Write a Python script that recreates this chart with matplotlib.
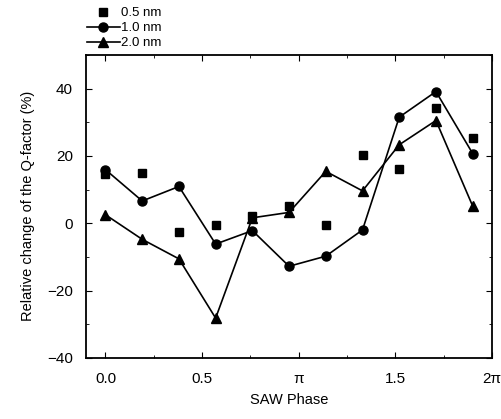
import numpy as np
import matplotlib
matplotlib.use("Agg")
from matplotlib import pyplot as plt
from matplotlib.ticker import MultipleLocator

plt.rcParams['font.family'] = ['Liberation Sans', 'DejaVu Sans']

# SAW phase in units of pi
phase = [0.0, 0.19, 0.38, 0.57, 0.76, 0.95, 1.14, 1.33, 1.52, 1.71, 1.90]

q_05nm = [14.7, 14.8, -2.6, -0.6, 2.1, 5.2, -0.4, 20.4, 16.0, 34.2, 25.3]
q_10nm = [15.9, 6.6, 10.9, -6.2, -2.2, -12.8, -9.8, -2.0, 31.5, 39.1, 20.7]
q_20nm = [2.5, -4.8, -10.6, -28.2, 1.6, 3.2, 15.4, 9.6, 23.3, 30.5, 5.1]

tick_pos = [0, 0.5, 1.0, 1.5, 2.0]
tick_labels = ['0.0', '0.5', 'π', '1.5', '2π']

fig = plt.figure(figsize=(5.01, 4.19), dpi=100)
ax = fig.add_axes([0.172, 0.146, 0.810, 0.723])

ax.plot(phase, q_05nm, 's', color='black', markersize=5.5, linestyle='none', label='0.5 nm')
ax.plot(phase, q_10nm, '-o', color='black', markersize=6.5, linewidth=1.2, label='1.0 nm')
ax.plot(phase, q_20nm, '-^', color='black', markersize=7, linewidth=1.2, label='2.0 nm')

ax.set_xlim(-0.1, 2.0)
ax.set_ylim(-40, 50)
ax.set_xticks(tick_pos)
ax.set_xticklabels(tick_labels)
ax.set_yticks([-40, -20, 0, 20, 40])
ax.xaxis.set_minor_locator(MultipleLocator(0.25))
ax.yaxis.set_minor_locator(MultipleLocator(10))
ax.tick_params(which='both', direction='in', top=True, right=True, labelsize=11)
ax.tick_params(axis='x', which='major', length=4, pad=10.5)
ax.tick_params(axis='y', which='major', length=4, pad=9.5)
ax.tick_params(which='minor', length=2)
for s in ax.spines.values():
    s.set_linewidth(1.3)

ax.set_xlabel('SAW Phase', fontsize=10.5, labelpad=5)
ax.set_ylabel('Relative change of the Q-factor (%)', fontsize=10.5, labelpad=9)

fig.legend(loc='upper left', bbox_to_anchor=(0.155, 1.005), frameon=False,
           fontsize=9.5, handlelength=2.5, handletextpad=0.05, labelspacing=0.2,
           borderpad=0.2)

fig.savefig('out.png', dpi=100)
